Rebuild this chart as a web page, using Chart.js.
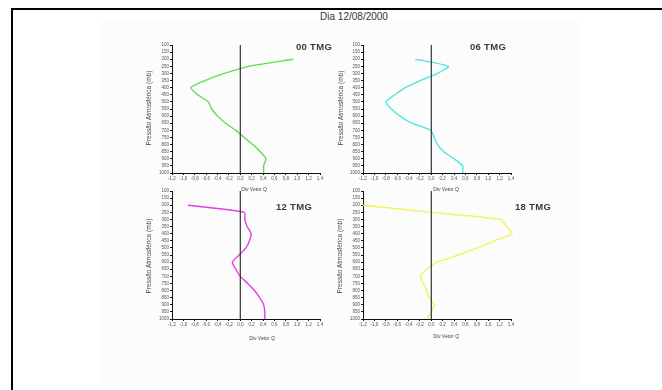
<!DOCTYPE html>
<html>
<head>
<meta charset="utf-8">
<script src="https://cdn.jsdelivr.net/npm/chart.js@4"></script>
<style>
  body { margin: 0; width: 662px; height: 390px; background: #fff; position: relative; overflow: hidden; font-family: "Liberation Sans", Arial, sans-serif; }
  #sheet { position: absolute; left: 100px; top: 22px; width: 480px; height: 362px; background: #fcfcfc; }
  #frameTop { position: absolute; left: 11px; top: 8px; width: 651px; height: 2px; background: #000; }
  #frameLeft { position: absolute; left: 11px; top: 8px; width: 2px; height: 382px; background: #000; }
  .cv { position: absolute; }
  .txt { position: absolute; color: #222; white-space: nowrap; }
  .ttl { font-size: 9.5px; font-weight: bold; color: #3a3a3a; letter-spacing: 0.3px; }
  .ytitle { font-size: 6.5px; color: #444; transform: translate(-50%, -50%) rotate(-90deg); }
  .xtitle { font-size: 5px; color: #444; transform: translateX(-50%); }
</style>
</head>
<body>
<div id="sheet"></div>
<div id="frameTop"></div>
<div id="frameLeft"></div>
<div class="txt" style="left:354px; top:11px; font-size:10px; transform:translateX(-50%); color:#333;">Dia 12/08/2000</div>

<canvas id="c00" class="cv" style="left:144px; top:40px;" width="186" height="145"></canvas>
<canvas id="c06" class="cv" style="left:335px; top:40px;" width="186" height="145"></canvas>
<canvas id="c12" class="cv" style="left:144px; top:186px;" width="186" height="145"></canvas>
<canvas id="c18" class="cv" style="left:335px; top:186px;" width="186" height="145"></canvas>

<div class="txt ttl" style="left:296px; top:41px;">00 TMG</div>
<div class="txt ttl" style="left:470px; top:41px;">06 TMG</div>
<div class="txt ttl" style="left:276px; top:201px;">12 TMG</div>
<div class="txt ttl" style="left:515px; top:201px;">18 TMG</div>

<div class="txt ytitle" style="left:148px; top:108px;">Pressão Atmosférica (mb)</div>
<div class="txt ytitle" style="left:340px; top:108px;">Pressão Atmosférica (mb)</div>
<div class="txt ytitle" style="left:148px; top:256px;">Pressão Atmosférica (mb)</div>
<div class="txt ytitle" style="left:339px; top:256px;">Pressão Atmosférica (mb)</div>

<div class="txt xtitle" style="left:254px; top:186px;">Div Vetor Q</div>
<div class="txt xtitle" style="left:446px; top:186px;">Div Vetor Q</div>
<div class="txt xtitle" style="left:262px; top:335px;">Div Vetor Q</div>
<div class="txt xtitle" style="left:446px; top:333px;">Div Vetor Q</div>

<script>
// pressure levels (mb) where the curves are read
const pressure = [200, 250, 300, 350, 400, 450, 500, 550, 600, 650, 700, 750, 800, 850, 900, 950, 1000];

// Div Vetor Q at each level, one array per hour
const div00 = [0.93, 0.15, -0.28, -0.62, -0.87, -0.75, -0.56, -0.5, -0.4, -0.26, -0.08, 0.07, 0.22, 0.35, 0.45, 0.41, 0.41];
const div06 = [-0.28, 0.3, 0.11, -0.19, -0.46, -0.64, -0.8, -0.7, -0.55, -0.34, -0.01, 0.05, 0.11, 0.22, 0.4, 0.55, 0.55];
const div12 = [-0.92, 0.07, 0.08, 0.12, 0.19, 0.16, 0.1, -0.02, -0.14, -0.08, 0.0, 0.13, 0.25, 0.34, 0.41, 0.43, 0.43];
const div18 = [-1.2, 0.0, 1.22, 1.32, 1.42, 1.1, 0.81, 0.48, 0.1, -0.08, -0.19, -0.14, -0.08, -0.04, 0.05, 0.0, -0.07];

// axis ranges / tick labels
const xMin = -1.2, xMax = 1.4, xStep = 0.2;
const yMin = 100, yMax = 1000, yStep = 50;
const zeroLine = [100, 1000]; // the black reference line at Div = 0

function makePanel(id, values, color) {
  const pts = values.map((v, i) => ({ x: v, y: pressure[i] }));
  const ctx = document.getElementById(id).getContext('2d');
  return new Chart(ctx, {
    type: 'scatter',
    data: {
      datasets: [
        {
          data: zeroLine.map(p => ({ x: 0, y: p })),
          showLine: true,
          borderColor: '#333',
          borderWidth: 1.2,
          pointRadius: 0
        },
        {
          data: pts,
          showLine: true,
          borderColor: color,
          borderWidth: 1.4,
          tension: 0.2,
          pointRadius: 0
        }
      ]
    },
    options: {
      responsive: false,
      animation: false,
      clip: false,
      layout: { padding: { top: 5, right: 10, left: 0, bottom: 0 } },
      plugins: { legend: { display: false }, tooltip: { enabled: false } },
      scales: {
        x: {
          type: 'linear',
          min: xMin, max: xMax,
          afterFit: s => { s.height = 12; },
          border: { display: true, color: '#111', width: 1 },
          grid: { drawOnChartArea: false, drawTicks: true, tickLength: 2, color: '#111' },
          ticks: {
            stepSize: xStep, autoSkip: false, maxRotation: 0, padding: 1,
            color: '#555', font: { size: 4.5, family: 'Liberation Sans' },
            callback: v => v.toFixed(1).replace('.', ',')
          }
        },
        y: {
          type: 'linear',
          reverse: true,
          min: yMin, max: yMax,
          afterFit: s => { s.width = 28; },
          border: { display: true, color: '#111', width: 1 },
          grid: { drawOnChartArea: false, drawTicks: true, tickLength: 2, color: '#111' },
          ticks: {
            stepSize: yStep, autoSkip: false, padding: 1,
            color: '#555', font: { size: 4.5, family: 'Liberation Sans' },
            callback: v => String(v)
          }
        }
      }
    }
  });
}

window.onload = function() {
  makePanel('c00', div00, '#62dc50');
  makePanel('c06', div06, '#4fe6e6');
  makePanel('c12', div12, '#e040e0');
  makePanel('c18', div18, '#f3f35c');
};
</script>
</body>
</html>
